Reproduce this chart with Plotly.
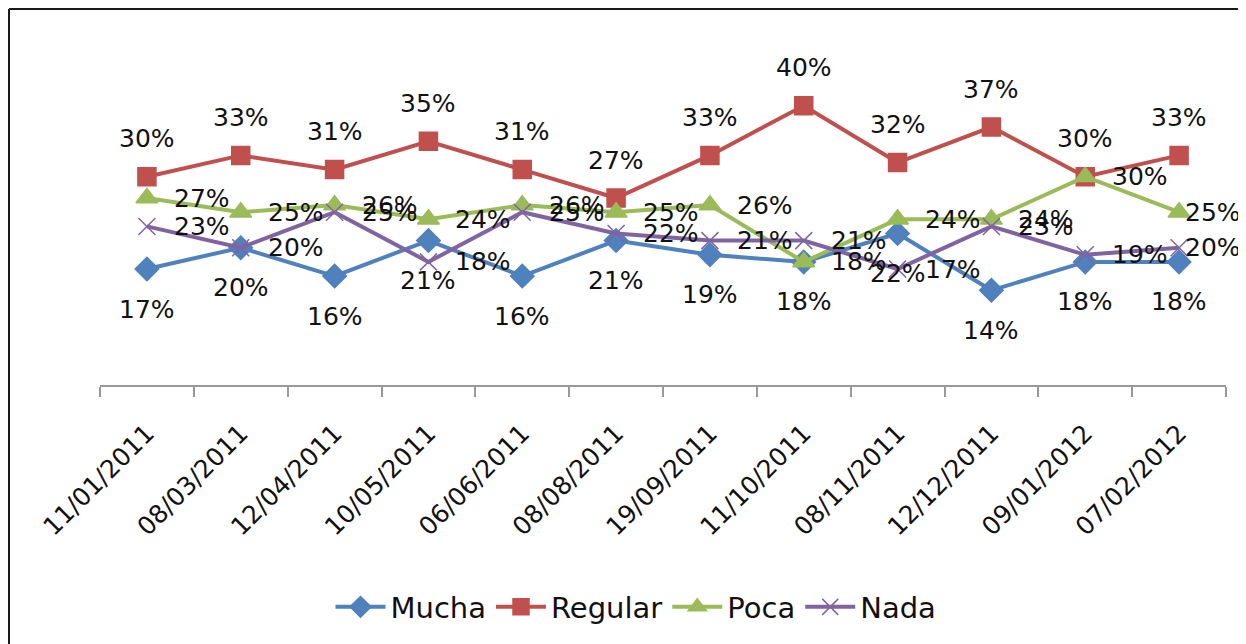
import plotly.graph_objects as go

dates = ["11/01/2011", "08/03/2011", "12/04/2011", "10/05/2011", "06/06/2011", "08/08/2011",
         "19/09/2011", "11/10/2011", "08/11/2011", "12/12/2011", "09/01/2012", "07/02/2012"]
mucha = [17, 20, 16, 21, 16, 21, 19, 18, 22, 14, 18, 18]
regular = [30, 33, 31, 35, 31, 27, 33, 40, 32, 37, 30, 33]
poca = [27, 25, 26, 24, 26, 25, 26, 18, 24, 24, 30, 25]
nada = [23, 20, 25, 18, 25, 22, 21, 21, 17, 23, 19, 20]

FONT = "DejaVu Sans"
TXT = "#111111"
series = [
    ("Mucha", mucha, "#4F81BD", "diamond", 18, "below"),
    ("Regular", regular, "#C0504D", "square", 18, "above"),
    ("Poca", poca, "#9BBB59", "triangle-up", 19, "right"),
    ("Nada", nada, "#8064A2", "x-thin-open", 17, "right"),
]

fig = go.Figure()
annotations = []
for name, vals, color, sym, size, pos in series:
    fig.add_trace(go.Scatter(
        x=dates, y=vals, name=name, mode="lines+markers",
        line=dict(color=color, width=4),
        marker=dict(symbol=sym, size=size, color=color,
                    line=dict(color=color, width=1.5)),
    ))
    n = len(vals)
    for i, (d, v) in enumerate(zip(dates, vals)):
        a = dict(x=d, y=v, text=f"{v}%", showarrow=False,
                 font=dict(family=FONT, size=25, color=TXT))
        if pos == "above":
            a.update(xanchor="center", yanchor="middle", yshift=38)
        elif pos == "below":
            a.update(xanchor="center", yanchor="middle", yshift=-40)
        else:
            # last label pulled in so it stays inside the chart, as in the original
            a.update(xanchor="left", yanchor="middle", xshift=4 if i == n - 1 else 25)
        annotations.append(a)

# page body adds an 8px offset; figure sized to fill the rest of the window
W, H = 1238, 636
L, R, T, B = 92, 20, 42, 259
pw, ph = W - L - R, H - T - B


def px(xp):
    return (xp - L) / pw


def py(yp):
    return (H - B - yp) / ph


shapes = [
    dict(type="line", xref="paper", yref="paper", x0=px(1), x1=px(1), y0=py(1), y1=py(660),
         line=dict(color="#1a1a1a", width=2)),
    dict(type="line", xref="paper", yref="paper", x0=px(1), x1=px(1260), y0=py(1), y1=py(1),
         line=dict(color="#1a1a1a", width=2)),
]

fig.update_layout(
    width=W, height=H,
    margin=dict(l=L, r=R, t=T, b=B),
    paper_bgcolor="white", plot_bgcolor="white",
    font=dict(family=FONT, size=25, color=TXT),
    showlegend=True,
    legend=dict(orientation="h", x=px(628), xanchor="center", y=py(599), yanchor="middle",
                font=dict(family=FONT, size=29, color=TXT), itemwidth=50,
                bgcolor="rgba(0,0,0,0)"),
    xaxis=dict(type="category", range=[-0.5, 11.5], showgrid=False, zeroline=False,
               showline=True, linecolor="#999999", linewidth=1.5,
               ticks="outside", tickson="boundaries", ticklen=10, tickcolor="#999999",
               tickwidth=1.5, tickangle=-45, ticklabelstandoff=22,
               tickfont=dict(family=FONT, size=25, color=TXT)),
    yaxis=dict(range=[0.66, 47.85], visible=False, showgrid=False, zeroline=False),
    annotations=annotations,
    shapes=shapes,
)

fig.write_html("out.html")
